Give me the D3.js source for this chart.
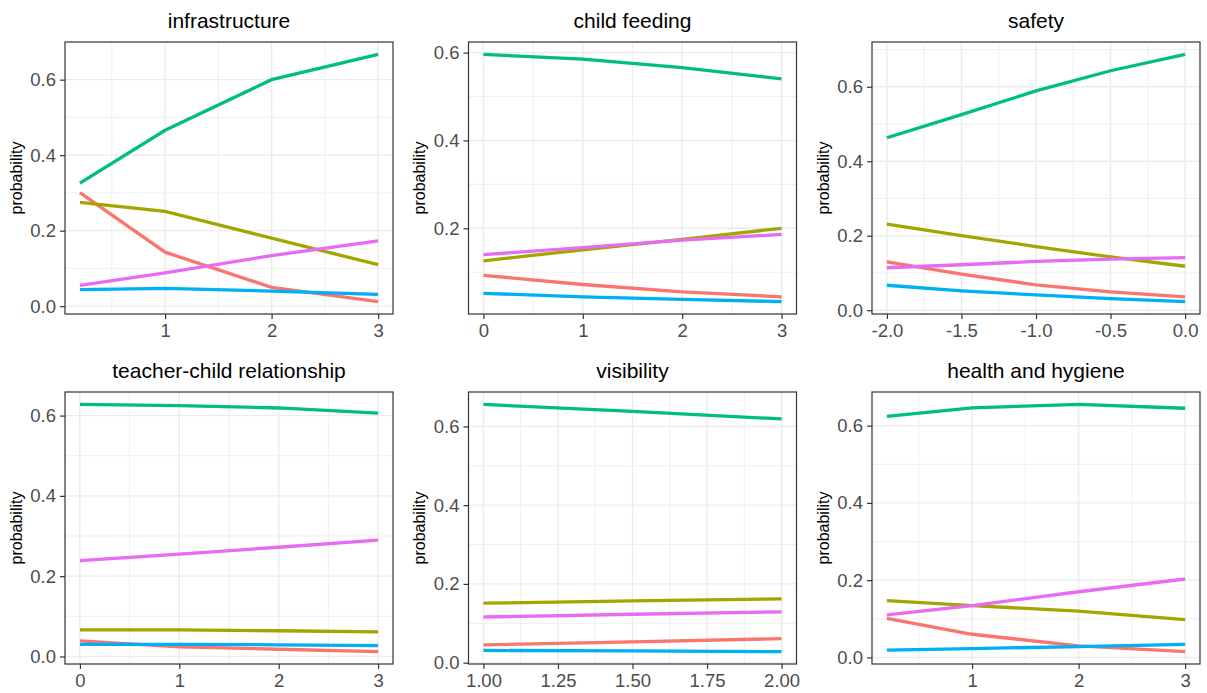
<!DOCTYPE html>
<html>
<head>
<meta charset="utf-8">
<script src="https://cdn.jsdelivr.net/npm/d3@7"></script>
<style>
  body { margin: 0; background: #fff; }
  svg { display: block; font-family: "Liberation Sans", Arial, sans-serif; }
</style>
</head>
<body>
<div id="chart"></div>
<script>
// panel titles, in drawing order (row by row)
const categories = ["infrastructure", "child feeding", "safety",
  "teacher-child relationship", "visibility", "health and hygiene"];

// response levels, ggplot default hue order
const levels = ["1", "2", "3", "4", "5"];
const levelColors = ["#F8766D", "#A3A500", "#00BF7D", "#00B0F6", "#E76BF3"];

// x values per panel
const xInfrastructure = [0.2, 1, 2, 3];
const xChildFeeding = [0, 1, 2, 3];
const xSafety = [-2, -1.5, -1, -0.5, 0];
const xTeacherChild = [0, 1, 2, 3];
const xVisibility = [1, 1.5, 2];
const xHealth = [0.2, 1, 2, 3];

// probabilities: one row per level (red, olive, green, blue, pink)
const pInfrastructure = [
  [0.301, 0.143, 0.050, 0.012],
  [0.275, 0.251, 0.180, 0.110],
  [0.326, 0.466, 0.600, 0.667],
  [0.044, 0.047, 0.040, 0.031],
  [0.055, 0.088, 0.134, 0.173]
];
const pChildFeeding = [
  [0.093, 0.072, 0.055, 0.044],
  [0.126, 0.151, 0.175, 0.200],
  [0.596, 0.585, 0.566, 0.540],
  [0.052, 0.044, 0.038, 0.033],
  [0.140, 0.156, 0.173, 0.186]
];
const pSafety = [
  [0.130, 0.097, 0.068, 0.049, 0.036],
  [0.231, 0.200, 0.171, 0.143, 0.118],
  [0.463, 0.525, 0.589, 0.643, 0.687],
  [0.067, 0.052, 0.041, 0.031, 0.023],
  [0.114, 0.122, 0.131, 0.137, 0.141]
];
const pTeacherChild = [
  [0.039, 0.024, 0.018, 0.012],
  [0.066, 0.066, 0.064, 0.061],
  [0.628, 0.625, 0.619, 0.606],
  [0.030, 0.030, 0.029, 0.027],
  [0.2385, 0.255, 0.272, 0.290]
];
const pVisibility = [
  [0.045, 0.053, 0.061],
  [0.151, 0.157, 0.162],
  [0.656, 0.638, 0.619],
  [0.031, 0.030, 0.028],
  [0.116, 0.123, 0.129]
];
const pHealth = [
  [0.101, 0.060, 0.030, 0.015],
  [0.147, 0.134, 0.120, 0.098],
  [0.624, 0.646, 0.655, 0.645],
  [0.019, 0.023, 0.028, 0.034],
  [0.110, 0.134, 0.170, 0.203]
];

// tick labels
const xTickLabels = [
  ["1", "2", "3"],
  ["0", "1", "2", "3"],
  ["-2.0", "-1.5", "-1.0", "-0.5", "0.0"],
  ["0", "1", "2", "3"],
  ["1.00", "1.25", "1.50", "1.75", "2.00"],
  ["1", "2", "3"]
];
const yTickLabels = ["0.0", "0.2", "0.4", "0.6"];

const xs = [xInfrastructure, xChildFeeding, xSafety, xTeacherChild, xVisibility, xHealth];
const ps = [pInfrastructure, pChildFeeding, pSafety, pTeacherChild, pVisibility, pHealth];

const W = 1207, H = 693;
const colLeft = [65, 468.5, 872];
const rowTop = [42, 392];
const pw = 328, ph = 272;

const svg = d3.select("#chart").append("svg")
  .attr("width", W).attr("height", H);

function expand(ext) {
  const d = (ext[1] - ext[0]) * 0.05;
  return [ext[0] - d, ext[1] + d];
}

// midpoints between majors, plus one step beyond each end (ggplot style)
function minorOf(major) {
  const step = major[1] - major[0];
  const out = [major[0] - step / 2];
  major.forEach(v => out.push(v + step / 2));
  return out;
}

categories.forEach((title, i) => {
  const left = colLeft[i % 3], top = rowTop[Math.floor(i / 3)];
  const xv = xs[i], pv = ps[i];
  const xTicks = xTickLabels[i].map(Number);
  const yTicks = yTickLabels.map(Number);

  const x = d3.scaleLinear().domain(expand(d3.extent(xv))).range([0, pw]);
  const y = d3.scaleLinear().domain(expand(d3.extent(pv.flat()))).range([ph, 0]);
  const inX = v => v >= x.domain()[0] && v <= x.domain()[1];
  const inY = v => v >= y.domain()[0] && v <= y.domain()[1];

  const g = svg.append("g").attr("transform", `translate(${left},${top})`);

  // grid
  const grid = g.append("g").attr("stroke", "#EBEBEB").attr("fill", "none");
  minorOf(yTicks).filter(inY).forEach(v => grid.append("line")
    .attr("x1", 0).attr("x2", pw).attr("y1", y(v)).attr("y2", y(v)).attr("stroke-width", 0.8));
  minorOf(xTicks).filter(inX).forEach(v => grid.append("line")
    .attr("y1", 0).attr("y2", ph).attr("x1", x(v)).attr("x2", x(v)).attr("stroke-width", 0.8));
  yTicks.filter(inY).forEach(v => grid.append("line")
    .attr("x1", 0).attr("x2", pw).attr("y1", y(v)).attr("y2", y(v)).attr("stroke-width", 1.4));
  xTicks.filter(inX).forEach(v => grid.append("line")
    .attr("y1", 0).attr("y2", ph).attr("x1", x(v)).attr("x2", x(v)).attr("stroke-width", 1.4));

  // lines
  const line = d3.line().x((d, k) => x(xv[k])).y(d => y(d));
  pv.forEach((row, s) => {
    g.append("path").datum(row)
      .attr("d", line)
      .attr("fill", "none")
      .attr("stroke", levelColors[s])
      .attr("stroke-width", 3.3);
  });

  // border
  g.append("rect").attr("width", pw).attr("height", ph)
    .attr("fill", "none").attr("stroke", "#333333").attr("stroke-width", 1.2);

  // axes
  const xAxis = d3.axisBottom(x).tickValues(xTicks.filter(inX))
    .tickFormat(v => xTickLabels[i][xTicks.indexOf(v)]).tickSize(5).tickPadding(5);
  const yAxis = d3.axisLeft(y).tickValues(yTicks.filter(inY))
    .tickFormat(v => yTickLabels[yTicks.indexOf(v)]).tickSize(5).tickPadding(4);

  const ax = g.append("g").attr("transform", `translate(0,${ph})`).call(xAxis);
  const ay = g.append("g").call(yAxis);
  [ax, ay].forEach(a => {
    a.select(".domain").remove();
    a.selectAll(".tick line").attr("stroke", "#333333").attr("stroke-width", 1.2);
    a.selectAll(".tick text").attr("fill", "#4D4D4D")
      .style("font-size", "18.5px").style("font-family", "Liberation Sans, Arial, sans-serif");
  });

  // title
  g.append("text").attr("x", pw / 2).attr("y", -13.7)
    .attr("text-anchor", "middle").attr("fill", "#000")
    .style("font-size", "21px").text(title);

  // y label
  g.append("text")
    .attr("transform", `translate(-43.5,${ph / 2}) rotate(-90)`)
    .attr("text-anchor", "middle").attr("fill", "#000")
    .style("font-size", "16px").text("probability");
});
</script>
</body>
</html>
